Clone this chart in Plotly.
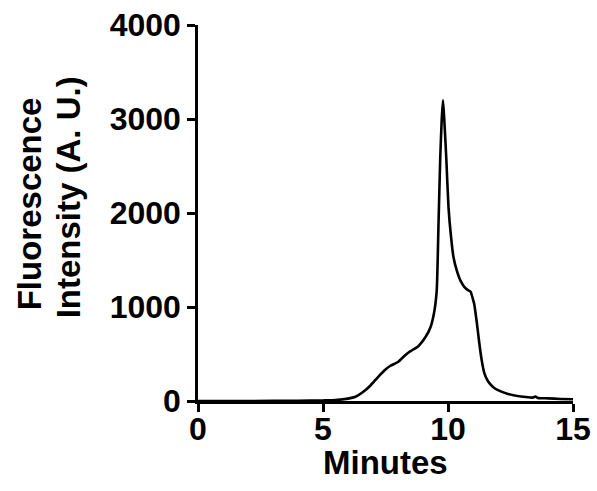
import plotly.graph_objects as go

# Elution profile: fluorescence intensity (A. U.) versus time (minutes)
minutes = [0, 2, 4, 5, 5.5, 6.0, 6.3, 6.6, 6.9, 7.2, 7.5, 7.7, 8.0, 8.3, 8.5,
           8.8, 9.1, 9.3, 9.45, 9.55, 9.62, 9.69, 9.75, 9.8, 9.85, 9.93, 10.02,
           10.12, 10.22, 10.35, 10.5, 10.65, 10.8, 10.9, 10.98, 11.05, 11.15,
           11.25, 11.35, 11.45, 11.6, 11.8, 12.0, 12.4, 13.0, 13.4, 13.5, 13.6,
           14.0, 14.5, 15]
intensity = [0, 0, 2, 6, 10, 25, 45, 95, 165, 255, 335, 375, 415, 490, 530,
             580, 680, 785, 950, 1180, 1880, 2590, 3000, 3200, 3000, 2590, 2060,
             1750, 1530, 1390, 1280, 1215, 1180, 1165, 1100, 1030, 840,
             620, 430, 300, 210, 150, 115, 75, 45, 37, 48, 32,
             28, 22, 18]

x_ticks = [0, 5, 10, 15]
y_ticks = [0, 1000, 2000, 3000, 4000]
x_title = "Minutes"
y_title_lines = ["Fluorescence", "Intensity (A. U.)"]

FONT = "Arial, Liberation Sans, sans-serif"

fig = go.Figure()
fig.add_trace(go.Scatter(
    x=minutes, y=intensity, mode="lines",
    line=dict(color="black", width=2.6, shape="spline", smoothing=0.5),
    hoverinfo="skip", showlegend=False,
))

axis_common = dict(
    showline=True, linecolor="black", linewidth=2.5,
    ticks="outside", ticklen=8, tickwidth=2.5, tickcolor="black",
    showgrid=False, zeroline=False, automargin=False,
    tickfont=dict(family=FONT, size=32, color="black", weight="bold"),
)
fig.update_xaxes(range=[0, 15], tickvals=x_ticks, ticklabelstandoff=-10,
                 **axis_common)
fig.update_yaxes(range=[0, 4000], tickvals=y_ticks, **axis_common)

title_font = dict(family=FONT, size=33, color="black", weight="bold")
fig.add_annotation(text=x_title, xref="paper", yref="paper",
                   x=0.5, y=-0.164, xanchor="center", yanchor="middle",
                   showarrow=False, font=title_font)
for text, xp, yp in zip(y_title_lines, [-0.4493, -0.3445], [0.5245, 0.5412]):
    fig.add_annotation(text=text, xref="paper", yref="paper",
                       x=xp, y=yp, xanchor="center", yanchor="middle",
                       textangle=-90, showarrow=False, font=title_font)

fig.update_layout(
    width=597, height=491,
    margin=dict(l=198, r=24, t=25, b=90, pad=0),
    plot_bgcolor="white", paper_bgcolor="white",
    font=dict(family=FONT, color="black"),
)

fig.write_html("out.html")
